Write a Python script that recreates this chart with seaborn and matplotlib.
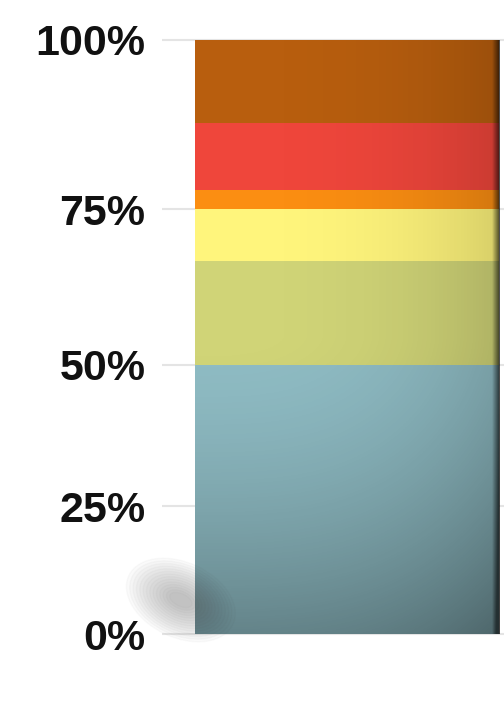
import numpy as np
import pandas as pd
import seaborn as sns
import matplotlib
matplotlib.use('Agg')
import matplotlib.pyplot as plt
from matplotlib.patches import Ellipse

# stacked shares (%), bottom to top
segments = ['blue', 'olive', 'yellow', 'orange', 'red', 'brown']
shares = [50, 17, 8, 3, 10, 12]
seg_colors = ['#8fbcc4', '#d0d477', '#fff57c', '#fb8e12', '#ef463b', '#b85e0e']
tick_values = [0, 25, 50, 75, 100]
tick_labels = ['0%', '25%', '50%', '75%', '100%']

df = pd.DataFrame({'segment': segments, 'share': shares, 'color': seg_colors})
df['top'] = df['share'].cumsum()
df['group'] = 'all'

sns.set_style('white')
plt.rcParams['font.family'] = ['Liberation Sans', 'DejaVu Sans']

fig = plt.figure(figsize=(5.04, 7.07), dpi=100)
ax = fig.add_axes([162 / 504, 0, 1 - 162 / 504, 1])

# mild perspective on the value axis
c = 0.002316
fwd = lambda v: v + c * v * v
inv = lambda f: (-1 + np.sqrt(np.clip(1 + 4 * c * f, 1e-9, None))) / (2 * c)
ax.set_yscale('function', functions=(fwd, inv))

# draw tallest cumulative bar first so lower segments sit on top
for _, row in df.iloc[::-1].iterrows():
    sns.barplot(x=[row['group']], y=[row['top']], color=row['color'],
                width=1.0, saturation=1, linewidth=0, ax=ax, zorder=2)

ax.set_xlim(-0.608, 0.515)
ax.set_ylim(-15.7, 105.6)
ax.set_yticks(tick_values)
ax.set_yticklabels(tick_labels)
ax.tick_params(axis='y', length=0, pad=12, labelsize=31, labelcolor='#111111')
for lab in ax.get_yticklabels():
    lab.set_fontweight('bold')
ax.set_xticks([])
ax.set_xlabel('')
ax.set_ylabel('')
ax.yaxis.grid(True, color='#e4e4e4', linewidth=1.5)
ax.xaxis.grid(False)
ax.set_axisbelow(True)
sns.despine(ax=ax, left=True, bottom=True, right=True, top=True)

# shading overlay across the bar
fig.canvas.draw()
x0, y0 = ax.transData.transform((-0.5, 0))
x1, y1 = ax.transData.transform((0.5, 100))
W, H = fig.bbox.width, fig.bbox.height
ov = fig.add_axes([x0 / W, y0 / H, (x1 - x0) / W, (y1 - y0) / H], zorder=3)
nx, ny = 400, 400
gx = np.linspace(0, 1, nx)[None, :]
gy = np.linspace(0, 1, ny)[:, None]  # 0 = top, 1 = bottom
alpha = 0.16 * gx ** 3
alpha = alpha + 0.30 * np.clip((gy - 0.5) / 0.5, 0, 1) ** 1.6
alpha = alpha + 0.55 * np.clip((gx - 0.975) / 0.025, 0, 1)
alpha = np.clip(alpha, 0, 0.75)
img = np.zeros((ny, nx, 4))
img[..., 3] = alpha
ov.imshow(img, origin='upper', aspect='auto', extent=(0, 1, 0, 1))
ov.axis('off')

# soft floor shadow to the left of the bar base
for i in range(14):
    sh = Ellipse((x0 - 14, y0 + 34), 115 - i * 7, 75 - i * 4.8, angle=-25,
                 transform=None, color='#666666', alpha=0.03, zorder=1)
    fig.patches.append(sh)

fig.savefig('out.png', dpi=100)
